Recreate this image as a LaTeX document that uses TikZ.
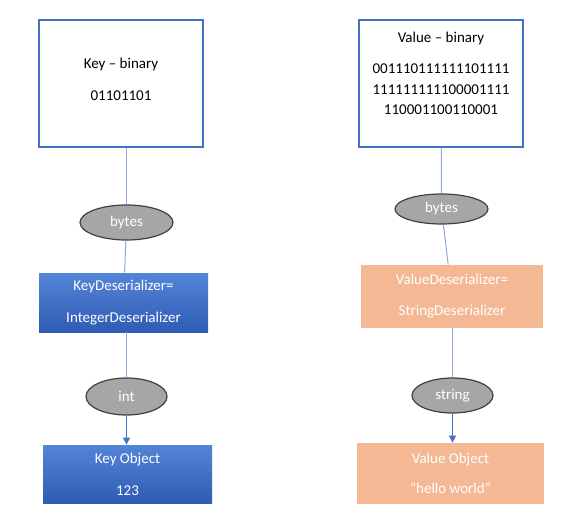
\documentclass[tikz,border=0pt]{standalone}
\usepackage{fontspec}
\setmainfont{Carlito}
\usetikzlibrary{shapes.geometric,arrows.meta}

\tikzset{every picture/.style={line width=0.75pt}}
\definecolor{boxblue}{RGB}{68,114,196}
\definecolor{linkblue}{RGB}{143,170,220}
\definecolor{ovalgray}{RGB}{166,166,166}
\definecolor{ovalline}{RGB}{64,64,64}
\definecolor{keytop}{RGB}{84,132,214}
\definecolor{keybot}{RGB}{47,92,180}
\definecolor{valorange}{RGB}{244,185,148}

\begin{document}
\begin{tikzpicture}[x=1pt, y=-1pt, font=\fontsize{15}{18}\selectfont,
        binbox/.style={draw=boxblue, line width=1.5pt, minimum width=164pt, minimum height=127pt},
        bintext/.style={align=center, inner sep=0pt},
        typeoval/.style={ellipse, draw=ovalline, line width=1.2pt, fill=ovalgray, text=white, inner sep=0pt},
        keybox/.style={top color=keytop, bottom color=keybot, text=white, align=center, minimum width=169pt},
        valbox/.style={fill=valorange, text=white, align=center},
        link/.style={draw=linkblue, line width=1pt},
        arrowlink/.style={draw=boxblue, line width=1pt, -{Triangle[width=7pt,length=7pt]}}]
        \useasboundingbox (0,0) rectangle (572,529);
        % key side
        \node[binbox] (kbin) at (121,83.5) {};
        \node[bintext] (kbintext) at (121,79) {Key -- binary\\[14pt]01101101};
        \node[typeoval, minimum width=93pt, minimum height=35pt] (kbytes) at (126.5,222.5) {bytes};
        \node[keybox, minimum height=59pt] (kdes) at (123.5,302.5) {KeyDeserializer=\\[14pt]IntegerDeserializer};
        \node[typeoval, minimum width=81pt, minimum height=37pt] (kint) at (126.5,396.5) {int};
        \node[keybox, minimum height=58pt] (kobj) at (127.5,474) {Key Object\\[14pt]123};
        % value side
        \node[binbox] (vbin) at (441,83.5) {};
        \node[bintext] (vbintext) at (441,73.5) {Value -- binary\\[13pt]001110111111101111\\[3pt]111111111100001111\\[2pt]110001100110001};
        \node[typeoval, minimum width=93pt, minimum height=30pt] (vbytes) at (441.5,209) {bytes};
        \node[valbox, minimum width=182pt, minimum height=63pt] (vdes) at (452,296.5) {ValueDeserializer=\\[13pt]StringDeserializer};
        \node[typeoval, minimum width=81pt, minimum height=35pt] (vstr) at (452.5,395.5) {string};
        \node[valbox, minimum width=187pt, minimum height=61pt] (vobj) at (450.5,473.5) {Value Object\\[12pt]“hello world”};
        % connectors
        \draw[link] (kbin.south -| kbytes) -- (kbytes);
        \draw[link] (kbytes) -- (kdes);
        \draw[link] (kdes.south -| kint) -- (kint);
        \draw[arrowlink] (kint) -- (kint |- kobj.north);
        \draw[link] (vbin) -- (vbytes);
        \draw[link] (vbytes) -- (vdes);
        \draw[link] (vdes.south -| vstr) -- (vstr);
        \draw[arrowlink] (vstr) -- (vstr |- vobj.north);
    \end{tikzpicture}
\end{document}
